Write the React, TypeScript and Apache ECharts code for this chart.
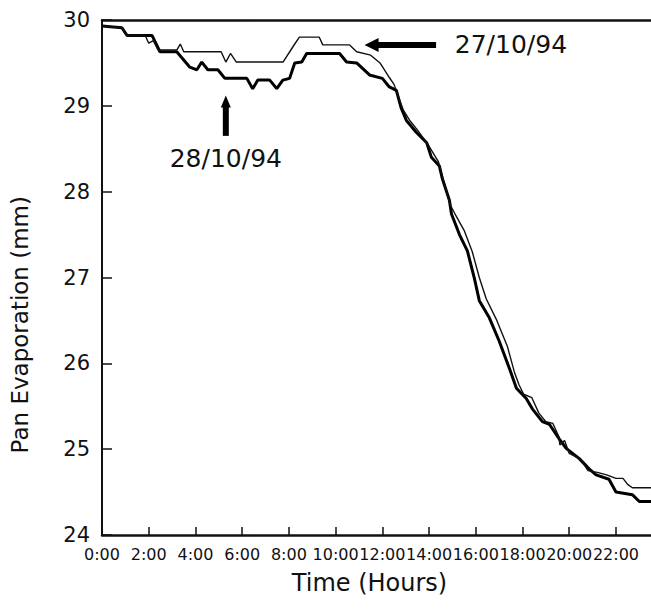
import React, { useEffect, useRef } from "react";
import * as echarts from "echarts";

// 28/10/94 (thick line): time in hours, pan evaporation in mm
const hours28 = [0, 0.85, 1.07, 2.14, 2.48, 3.2, 3.76, 4.06, 4.27, 4.53, 4.96, 5.26, 6.2, 6.45, 6.67, 7.18, 7.48, 7.74, 8.03, 8.25, 8.55, 8.76, 10.17, 10.47, 10.9, 11.45, 12.0, 12.3, 12.6, 12.8, 13.03, 13.46, 13.9, 14.1, 14.44, 14.57, 14.87, 14.96, 15.3, 15.64, 15.94, 16.15, 16.58, 17.0, 17.44, 17.74, 18.16, 18.42, 18.85, 19.15, 19.57, 19.87, 20.43, 20.85, 21.15, 21.7, 22.0, 22.7, 23.0, 23.5];
const evap28 = [29.93, 29.91, 29.82, 29.82, 29.63, 29.63, 29.45, 29.42, 29.51, 29.42, 29.42, 29.32, 29.32, 29.2, 29.3, 29.3, 29.2, 29.3, 29.32, 29.5, 29.51, 29.61, 29.61, 29.51, 29.5, 29.36, 29.32, 29.22, 29.18, 28.98, 28.83, 28.69, 28.57, 28.4, 28.3, 28.15, 27.9, 27.74, 27.5, 27.31, 26.99, 26.73, 26.53, 26.26, 25.94, 25.71, 25.59, 25.47, 25.32, 25.29, 25.12, 25.01, 24.89, 24.77, 24.7, 24.65, 24.5, 24.47, 24.39, 24.39];

// 27/10/94 (thin line)
const hours27 = [0, 0.85, 1.07, 1.85, 2.0, 2.2, 2.4, 3.2, 3.35, 3.5, 5.1, 5.3, 5.5, 5.75, 7.75, 8.2, 8.45, 9.3, 9.45, 10.6, 10.9, 11.5, 11.9, 12.3, 12.5, 12.9, 13.2, 13.5, 13.95, 14.4, 14.7, 14.9, 15.15, 15.5, 15.85, 16.15, 16.45, 16.9, 17.35, 17.65, 17.85, 18.05, 18.4, 18.7, 19.0, 19.3, 19.55, 19.6, 19.8, 20.0, 20.5, 20.8, 21.2, 21.6, 22.0, 22.3, 22.5, 22.7, 23.5];
const evap27 = [29.93, 29.91, 29.82, 29.82, 29.73, 29.76, 29.65, 29.65, 29.72, 29.63, 29.63, 29.51, 29.61, 29.51, 29.51, 29.7, 29.8, 29.8, 29.71, 29.71, 29.63, 29.59, 29.5, 29.33, 29.25, 28.95, 28.82, 28.72, 28.55, 28.35, 28.05, 27.85, 27.72, 27.55, 27.3, 27.0, 26.75, 26.5, 26.2, 25.9, 25.75, 25.64, 25.6, 25.42, 25.32, 25.3, 25.15, 25.05, 25.1, 24.95, 24.88, 24.75, 24.73, 24.7, 24.66, 24.66, 24.59, 24.55, 24.55];

const yMin = 24;
const yMax = 30;
const xMax = 23.5;

const label27 = "27/10/94";
const label28 = "28/10/94";
const yTitle = "Pan Evaporation (mm)";
const xTitle = "Time (Hours)";

const FONT = "DejaVu Sans";

export default function App() {
  const ref = useRef<HTMLDivElement>(null);
  useEffect(() => {
    if (!ref.current) return;
    const chart = echarts.init(ref.current, undefined, { renderer: "svg" });
    const d28 = hours28.map((h, i) => [h, evap28[i]]);
    const d27 = hours27.map((h, i) => [h, evap27[i]]);
    chart.setOption({
      animation: false,
      backgroundColor: "#ffffff",
      grid: { left: 102, top: 20, right: 0, bottom: 610 - 535, containLabel: false },
      xAxis: [
        {
          type: "value",
          min: 0,
          max: xMax,
          interval: 2,
          axisLine: { lineStyle: { color: "#111", width: 2.5 } },
          axisTick: { inside: true, length: 8, lineStyle: { color: "#111", width: 1.5 } },
          splitLine: { show: false },
          axisLabel: {
            fontFamily: FONT,
            fontSize: 16,
            color: "#111",
            margin: 11,
            showMaxLabel: false,
            formatter: (v: number) => (Number.isInteger(v) && v % 2 === 0 && v <= 22 ? `${v}:00` : ""),
          },
        },
        {
          type: "value",
          position: "top",
          min: 0,
          max: xMax,
          axisLine: { show: true, lineStyle: { color: "#111", width: 2.5 } },
          axisTick: { show: false },
          axisLabel: { show: false },
          splitLine: { show: false },
        },
      ],
      yAxis: {
        type: "value",
        min: yMin,
        max: yMax,
        interval: 1,
        axisLine: { show: true, lineStyle: { color: "#111", width: 2 } },
        axisTick: { show: true, inside: true, length: 10, lineStyle: { color: "#111", width: 1.5 } },
        splitLine: { show: false },
        axisLabel: { fontFamily: FONT, fontSize: 21, color: "#111", margin: 12 },
      },
      series: [
        {
          name: label27,
          type: "line",
          data: d27,
          showSymbol: false,
          lineStyle: { color: "#111", width: 1.4 },
          z: 3,
        },
        {
          name: label28,
          type: "line",
          data: d28,
          showSymbol: false,
          lineStyle: { color: "#000", width: 3 },
          z: 2,
        },
      ],
    });

    const p = (h: number, v: number) => chart.convertToPixel({ gridIndex: 0 }, [h, v]) as number[];
    const aTip = p(11.24, 29.71);
    const aTail = p(14.3, 29.71);
    const t27 = p(15.1, 29.71);
    const uTip = p(5.3, 29.12);
    const uTail = p(5.3, 28.65);
    const t28 = p(5.3, 28.39);
    const yName = p(0, 26.45);
    const xName = p(11.45, 24);
    chart.setOption({
      graphic: [
        {
          type: "text",
          x: 20,
          y: yName[1],
          rotation: Math.PI / 2,
          style: { text: yTitle, fontFamily: FONT, fontSize: 23, fill: "#111", textAlign: "center", textVerticalAlign: "middle" },
        },
        {
          type: "text",
          x: xName[0],
          y: xName[1] + 48,
          style: { text: xTitle, fontFamily: FONT, fontSize: 24, fill: "#111", textAlign: "center", textVerticalAlign: "middle" },
        },
        {
          type: "polygon",
          shape: { points: [[aTip[0], aTip[1]], [aTip[0] + 14, aTip[1] - 7], [aTip[0] + 14, aTip[1] + 7]] },
          style: { fill: "#000" },
        },
        {
          type: "rect",
          shape: { x: aTip[0] + 12, y: aTip[1] - 3, width: aTail[0] - aTip[0] - 12, height: 6 },
          style: { fill: "#000" },
        },
        {
          type: "text",
          x: t27[0],
          y: t27[1],
          style: { text: label27, fontFamily: FONT, fontSize: 25, fill: "#111", textAlign: "left", textVerticalAlign: "middle" },
        },
        {
          type: "polygon",
          shape: { points: [[uTip[0], uTip[1]], [uTip[0] - 5, uTip[1] + 12], [uTip[0] + 5, uTip[1] + 12]] },
          style: { fill: "#000" },
        },
        {
          type: "rect",
          shape: { x: uTip[0] - 3, y: uTip[1] + 10, width: 6, height: uTail[1] - uTip[1] - 10 },
          style: { fill: "#000" },
        },
        {
          type: "text",
          x: t28[0],
          y: t28[1],
          style: { text: label28, fontFamily: FONT, fontSize: 25, fill: "#111", textAlign: "center", textVerticalAlign: "middle" },
        },
      ],
    });
    return () => chart.dispose();
  }, []);
  return <div ref={ref} style={{ position: "absolute", left: 0, top: 0, width: 651, height: 610 }} />;
}
